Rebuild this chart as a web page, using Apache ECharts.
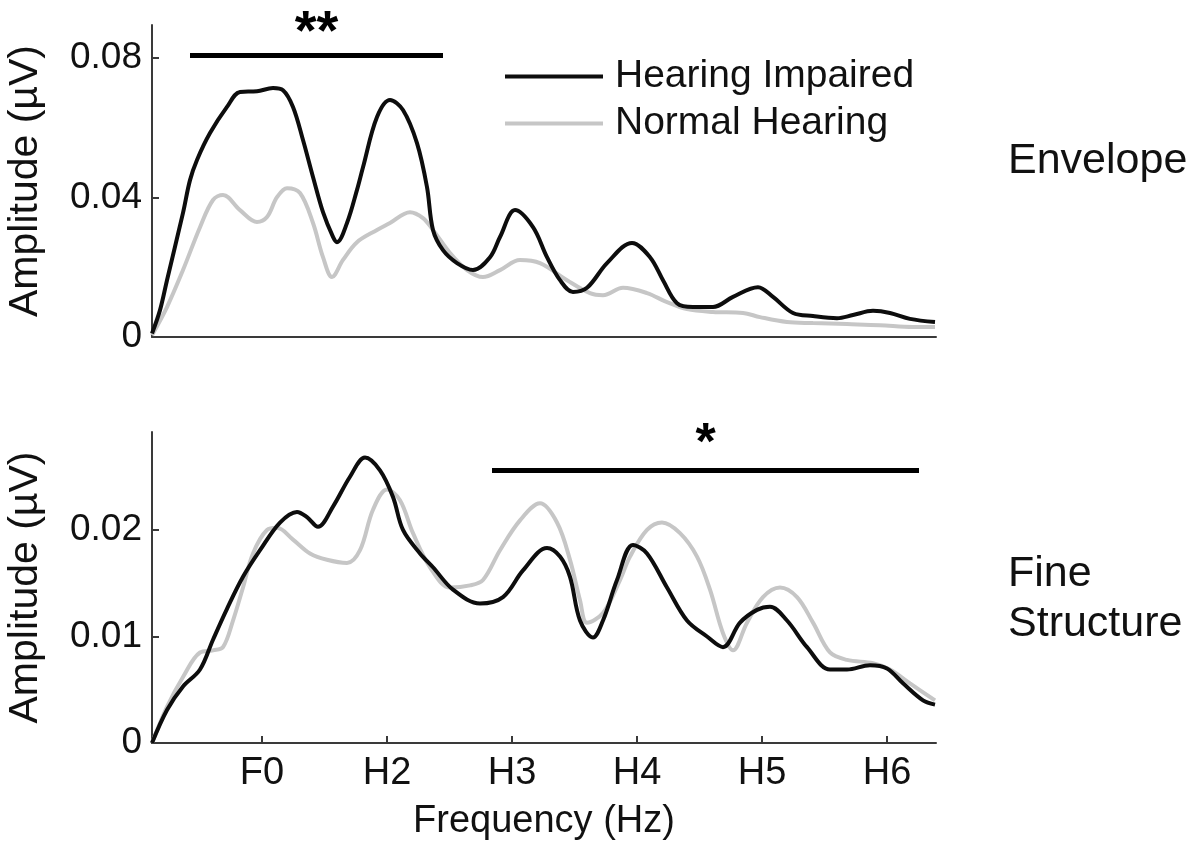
<!DOCTYPE html>
<html><head><meta charset="utf-8">
<script src="https://cdn.jsdelivr.net/npm/echarts@6/dist/echarts.min.js"></script>
<style>html,body{margin:0;padding:0;background:#fff}#c{width:1203px;height:845px}</style>
</head><body><div id="c"></div><script>
// x in harmonic units: 1 = F0, 2 = H2, ... 6 = H6
const xTickValues = [1, 2, 3, 4, 5, 6];
const xTickLabels = ['F0', 'H2', 'H3', 'H4', 'H5', 'H6'];
const envTicks = [0, 0.04, 0.08];
const fineTicks = [0, 0.01, 0.02];
const seriesNames = ['Hearing Impaired', 'Normal Hearing'];
const panelNames = ['Envelope', 'Fine\nStructure'];

const envHI = [[0.12,0.001],[0.184,0.0077],[0.24,0.0163],[0.368,0.0356],[0.424,0.045],[0.48,0.0508],[0.584,0.0585],[0.72,0.066],[0.824,0.0703],[0.96,0.0705],[1.088,0.0714],[1.168,0.0708],[1.248,0.066],[1.328,0.0565],[1.408,0.0459],[1.488,0.0358],[1.568,0.0287],[1.6,0.0272],[1.68,0.0327],[1.76,0.0422],[1.808,0.0487],[1.92,0.0631],[2.024,0.068],[2.128,0.0651],[2.24,0.0556],[2.32,0.043],[2.368,0.0307],[2.448,0.0249],[2.56,0.0212],[2.688,0.0192],[2.824,0.0229],[2.904,0.0287],[3.024,0.0364],[3.168,0.0315],[3.28,0.0229],[3.384,0.0163],[3.488,0.0129],[3.6,0.0141],[3.76,0.0212],[3.96,0.027],[4.104,0.0229],[4.208,0.0163],[4.32,0.0097],[4.448,0.0086],[4.608,0.0086],[4.768,0.0115],[4.968,0.0143],[5.088,0.0115],[5.248,0.0069],[5.408,0.006],[5.6,0.0054],[5.728,0.0063],[5.888,0.0075],[6.024,0.0069],[6.184,0.0052],[6.384,0.0043]];
const envNH = [[0.12,0.0005],[0.24,0.0086],[0.368,0.0192],[0.504,0.0315],[0.608,0.0393],[0.688,0.0407],[0.824,0.0364],[0.96,0.033],[1.04,0.0344],[1.12,0.0401],[1.2,0.0427],[1.304,0.0413],[1.408,0.0327],[1.488,0.0229],[1.56,0.0172],[1.648,0.0221],[1.76,0.0272],[1.92,0.0307],[2.024,0.0327],[2.184,0.0358],[2.288,0.0341],[2.368,0.0307],[2.504,0.0241],[2.64,0.0192],[2.768,0.0172],[2.904,0.0192],[3.064,0.0221],[3.224,0.0212],[3.44,0.0163],[3.624,0.0126],[3.728,0.012],[3.888,0.0141],[4.08,0.0126],[4.24,0.01],[4.4,0.008],[4.608,0.0072],[4.848,0.0069],[4.984,0.0057],[5.2,0.0043],[5.408,0.004],[5.68,0.0037],[5.944,0.0034],[6.208,0.0029],[6.384,0.0029]];
const fineHI = [[0.12,0],[0.24,0.0031],[0.368,0.0053],[0.504,0.0069],[0.608,0.0097],[0.72,0.0126],[0.848,0.0156],[0.984,0.0181],[1.144,0.0207],[1.28,0.0217],[1.36,0.0212],[1.448,0.0203],[1.568,0.0222],[1.704,0.025],[1.824,0.0268],[1.944,0.0256],[2.048,0.0231],[2.128,0.02],[2.264,0.0178],[2.368,0.0165],[2.528,0.0144],[2.744,0.0131],[2.928,0.0137],[3.088,0.0162],[3.28,0.0183],[3.384,0.0175],[3.464,0.0156],[3.544,0.0115],[3.648,0.0099],[3.728,0.0115],[3.84,0.0153],[3.968,0.0186],[4.08,0.0178],[4.24,0.0146],[4.4,0.0115],[4.56,0.01],[4.688,0.009],[4.824,0.0113],[4.96,0.0125],[5.064,0.0128],[5.2,0.0115],[5.36,0.009],[5.544,0.0069],[5.68,0.0069],[5.864,0.0073],[6.0,0.007],[6.128,0.0056],[6.288,0.004],[6.384,0.0036]];
const fineNH = [[0.12,0],[0.24,0.0034],[0.368,0.0062],[0.504,0.0085],[0.608,0.0087],[0.688,0.009],[0.768,0.0115],[0.848,0.0146],[0.928,0.0178],[1.04,0.02],[1.12,0.0202],[1.248,0.0191],[1.384,0.0178],[1.52,0.0172],[1.68,0.0169],[1.784,0.0181],[1.888,0.0219],[2.0,0.0238],[2.104,0.0228],[2.208,0.0197],[2.344,0.0165],[2.504,0.0146],[2.664,0.0148],[2.768,0.0153],[2.904,0.0181],[3.064,0.0209],[3.224,0.0225],[3.36,0.0207],[3.464,0.0172],[3.544,0.0134],[3.6,0.0113],[3.728,0.0122],[3.864,0.0153],[3.944,0.0175],[4.08,0.02],[4.2,0.0207],[4.344,0.0197],[4.48,0.0175],[4.584,0.0144],[4.688,0.0103],[4.768,0.0087],[4.88,0.0113],[5.008,0.0137],[5.144,0.0146],[5.28,0.0137],[5.408,0.0113],[5.544,0.0085],[5.68,0.0078],[5.888,0.0075],[6.024,0.0069],[6.184,0.0056],[6.384,0.004]];

// significance bars: [xStart, xEnd, y]
const sigEnv = [0.424, 2.448, 0.0809];
const sigFine = [2.84, 6.256, 0.0256];

const FONT = 'Liberation Sans, Arial, sans-serif';
const AX = '#3a3a3a';
const BLACK = '#0d0d0d';
const GRAY = '#c6c6c6';

const chart = echarts.init(document.getElementById('c'), null, {renderer: 'canvas'});

function xAxis(gridIndex, showLabels) {
  return {
    type: 'value', gridIndex, min: 0.12, max: 6.392,
    axisLine: {show: true, onZero: false, lineStyle: {color: AX, width: 2}},
    splitLine: {show: false},
    axisTick: {show: showLabels, inside: true, length: 7, customValues: xTickValues, lineStyle: {color: AX, width: 2}},
    axisLabel: {show: showLabels, customValues: xTickValues, margin: 12, fontSize: 38, color: '#111', fontFamily: FONT,
      formatter: v => xTickLabels[xTickValues.indexOf(Math.round(v))] || ''},
    name: showLabels ? 'Frequency (Hz)' : '', nameLocation: 'middle', nameGap: 60,
    nameTextStyle: {fontSize: 38, color: '#111', fontFamily: FONT}
  };
}
function yAxis(gridIndex, max, ticks) {
  return {
    type: 'value', gridIndex, min: 0, max,
    axisLine: {show: true, lineStyle: {color: AX, width: 2}},
    splitLine: {show: false},
    axisTick: {show: true, inside: true, length: 7, customValues: ticks, lineStyle: {color: AX, width: 2}},
    axisLabel: {customValues: ticks, margin: 10, fontSize: 37, color: '#111', fontFamily: FONT,
      formatter: v => v === 0 ? '0' : String(+v.toFixed(3))},
    name: 'Amplitude (µV)', nameLocation: 'middle', nameGap: 106, nameRotate: 90,
    nameTextStyle: {fontSize: 41, color: '#111', fontFamily: FONT}
  };
}
function sigMark(sig, text, fontSize, distance) {
  return {
    silent: true, symbol: ['none', 'none'], animation: false,
    lineStyle: {color: '#000', width: 5, type: 'solid'},
    label: {show: true, position: 'middle', formatter: text, fontSize, fontWeight: 'bold', color: '#000', fontFamily: FONT, distance},
    emphasis: {disabled: true},
    data: [[{coord: [sig[0], sig[2]]}, {coord: [sig[1], sig[2]]}]]
  };
}
function line(name, data, color, xi, mark) {
  const s = {
    name, type: 'line', data, xAxisIndex: xi, yAxisIndex: xi,
    showSymbol: false, symbol: 'none', smooth: 0.35,
    lineStyle: {color, width: 4}, itemStyle: {color},
    emphasis: {disabled: true}, animation: false
  };
  if (mark) s.markLine = mark;
  return s;
}

chart.setOption({
  animation: false,
  textStyle: {fontFamily: FONT},
  grid: [
    {left: 152, top: 25, width: 784, height: 312, outerBoundsMode: 'none', containLabel: false},
    {left: 152, top: 432, width: 784, height: 311, outerBoundsMode: 'none', containLabel: false}
  ],
  xAxis: [xAxis(0, false), xAxis(1, true)],
  yAxis: [yAxis(0, 0.0895, envTicks), yAxis(1, 0.0292, fineTicks)],
  legend: {
    data: seriesNames, orient: 'vertical', left: 500, top: 48,
    icon: 'rect', itemWidth: 98, itemHeight: 4, itemGap: 0,
    textStyle: {fontSize: 39, color: '#111', lineHeight: 47, padding: [0, 0, 0, 7], fontFamily: FONT},
    selectedMode: false
  },
  series: [
    line(seriesNames[1], envNH, GRAY, 0),
    line(seriesNames[0], envHI, BLACK, 0, sigMark(sigEnv, '**', 56, -7)),
    line(seriesNames[1], fineNH, GRAY, 1),
    line(seriesNames[0], fineHI, BLACK, 1, sigMark(sigFine, '*', 52, 0))
  ],
  graphic: [
    {type: 'text', left: 1008, top: 140, style: {text: panelNames[0], fontSize: 43, fill: '#111', fontFamily: FONT}},
    {type: 'text', left: 1008, top: 549, style: {text: panelNames[1], fontSize: 43, lineHeight: 50, fill: '#111', fontFamily: FONT}}
  ]
});
</script></body></html>
